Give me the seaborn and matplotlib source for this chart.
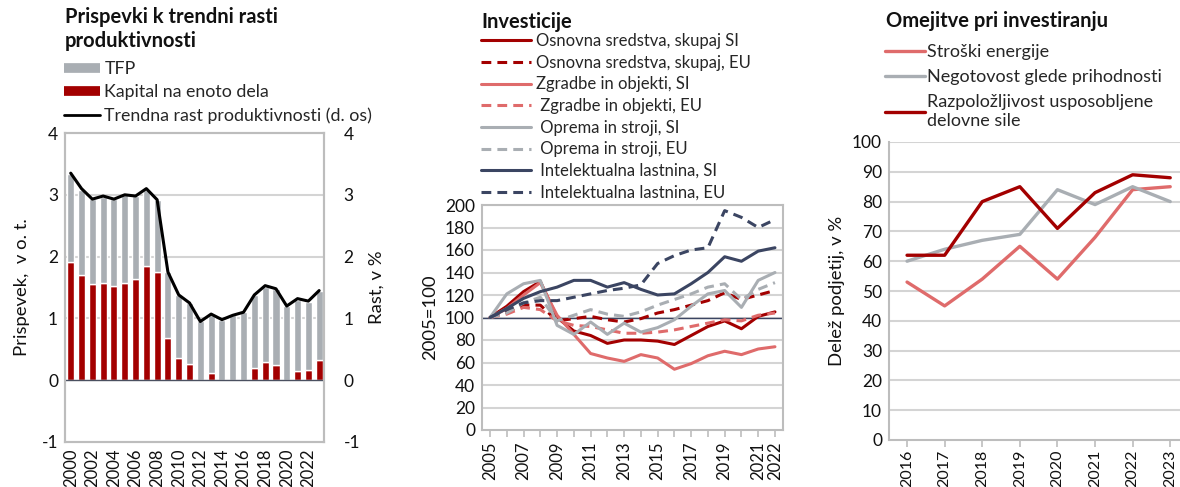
import numpy as np
import pandas as pd
import matplotlib
matplotlib.use("Agg")
import matplotlib.pyplot as plt
from matplotlib.lines import Line2D
import seaborn as sns

sns.set_theme(style="white")
plt.rcParams['font.family'] = ['Lato', 'DejaVu Sans']

# ---------------- data ----------------
years_a = list(range(2000, 2024))
kapital = [1.92, 1.70, 1.55, 1.58, 1.53, 1.58, 1.63, 1.85, 1.75, 0.68, 0.36, 0.26,
           0.00, 0.12, 0.00, 0.01, -0.02, 0.19, 0.30, 0.25, -0.02, 0.15, 0.17, 0.33]
tfp = [1.41, 1.38, 1.38, 1.39, 1.40, 1.42, 1.35, 1.23, 1.17, 1.07, 1.02, 0.99,
       0.95, 0.94, 0.98, 1.04, 1.10, 1.19, 1.20, 1.23, 1.20, 1.15, 1.10, 1.12]
trend = [3.35, 3.10, 2.93, 2.98, 2.93, 3.00, 2.98, 3.10, 2.92, 1.75, 1.38, 1.25,
         0.95, 1.07, 0.98, 1.05, 1.10, 1.38, 1.53, 1.48, 1.20, 1.32, 1.28, 1.45]

years_b = list(range(2005, 2023))
osn_si = [100, 110, 123, 132, 100, 88, 84, 77, 80, 80, 79, 76, 84, 92, 97, 90, 101, 105]
osn_eu = [100, 105, 111, 111, 97, 99, 101, 98, 96, 99, 104, 107, 111, 115, 122, 116, 120, 124]
zgr_si = [100, 108, 120, 131, 102, 85, 68, 64, 61, 67, 64, 54, 59, 66, 70, 67, 72, 74]
zgr_eu = [100, 103, 109, 107, 97, 93, 92, 89, 86, 86, 87, 89, 92, 95, 98, 97, 102, 104]
opr_si = [100, 121, 130, 133, 93, 85, 96, 85, 95, 87, 91, 98, 110, 121, 124, 109, 133, 140]
opr_eu = [100, 104, 113, 118, 97, 102, 107, 103, 101, 105, 111, 116, 121, 127, 130, 116, 125, 131]
int_si = [100, 108, 117, 123, 127, 133, 133, 127, 131, 125, 120, 121, 130, 140, 154, 150, 159, 162]
int_eu = [100, 107, 113, 115, 115, 118, 121, 124, 126, 129, 148, 155, 160, 162, 195, 189, 180, 187]
labels_b = ["Osnovna sredstva, skupaj SI", "Osnovna sredstva, skupaj, EU",
            "Zgradbe in objekti, SI", " Zgradbe in objekti, EU",
            " Oprema in stroji, SI", " Oprema in stroji, EU",
            " Intelektualna lastnina, SI", " Intelektualna lastnina, EU"]

years_c = list(range(2016, 2024))
energija = [53, 45, 54, 65, 54, 68, 84, 85]
negotovost = [60, 64, 67, 69, 84, 79, 85, 80]
delovna = [62, 62, 80, 85, 71, 83, 89, 88]
labels_c = ["Stroški energije", "Negotovost glede prihodnosti",
            "Razpoložljivost usposobljene\ndelovne sile"]

# ---------------- style ----------------
DARK_RED = "#A30000"
LIGHT_RED = "#DF6B6B"
GRAY = "#A9AEB3"
NAVY = "#3B4562"
GRID = "#D4D4D4"
SPINE = "#BDBDBD"
TXT = "#111111"
W, H = 1180, 487
FS = 12.5      # y tick labels
FSX = 12       # x tick labels
FSL = 13.3     # axis labels
FST = 14.5     # titles

fig = plt.figure(figsize=(W / 100, H / 100), dpi=100)


def px_axes(l, t, r, b):
    return fig.add_axes([l / W, 1 - b / H, (r - l) / W, (b - t) / H])


def ftext(x, y, s, **kw):
    fig.text(x / W, 1 - y / H, s, **kw)


def style_spines(ax, which=("left", "bottom", "right", "top")):
    for k, sp in ax.spines.items():
        if k in which:
            sp.set_visible(True)
            sp.set_color(SPINE)
            sp.set_linewidth(1.5)
        else:
            sp.set_visible(False)


# ---------------- left panel ----------------
ax1 = px_axes(65, 133, 324, 442)
idx_a = np.arange(len(years_a))
bw = 0.66
ax1.bar(idx_a, kapital, width=bw, color=DARK_RED, zorder=3)
ax1.bar(idx_a, tfp, width=bw, bottom=np.clip(kapital, 0, None), color=GRAY, zorder=3)
ax1.set_ylim(-1, 4)
ax1.set_xlim(-0.53, len(years_a) - 0.55)
ax1.set_yticks([-1, 0, 1, 2, 3, 4])
ax1.set_yticklabels(["-1", "0", "1", "2", "3", "4"])
for v in [1, 2, 3]:
    ax1.axhline(v, color=GRID, lw=1.5, zorder=1)
ax1.axhline(0, color="#4A5060", lw=1.0, zorder=4)
ax1.set_xticks(idx_a[::2])
ax1.set_xticklabels([str(y) for y in years_a[::2]], rotation=90)
ax1.tick_params(axis="y", length=0, labelsize=FS, colors=TXT, pad=5)
ax1.tick_params(axis="x", length=0, labelsize=FSX, colors=TXT, pad=5)
ax1.set_ylabel("Prispevek,  v o. t.", fontsize=FSL, color=TXT, labelpad=8)
style_spines(ax1)

ax1b = ax1.twinx()
sns.lineplot(x=idx_a, y=trend, ax=ax1b, color="black", lw=2.2, zorder=5)
ax1b.set_ylim(-1, 4)
ax1b.set_yticks([-1, 0, 1, 2, 3, 4])
ax1b.set_yticklabels(["-1", "0", "1", "2", "3", "4"])
ax1b.tick_params(axis="y", length=0, labelsize=FS, colors=TXT, pad=14)
ax1b.set_ylabel("Rast, v %", fontsize=FSL, color=TXT, labelpad=6)
style_spines(ax1b)

ftext(65, 7, "Prispevki k trendni rasti\nproduktivnosti", fontsize=FST, fontweight="bold",
      va="top", ha="left", color=TXT, linespacing=1.25)
h_left = [Line2D([], [], color=GRAY, lw=7, solid_capstyle="butt"),
          Line2D([], [], color=DARK_RED, lw=7, solid_capstyle="butt"),
          Line2D([], [], color="black", lw=2)]
fig.legend(h_left, ["TFP", "Kapital na enoto dela", "Trendna rast produktivnosti (d. os)"],
           loc="upper left", bbox_to_anchor=(64 / W, 1 - 61 / H), frameon=False,
           fontsize=12.8, handlelength=2.05, handletextpad=0.22, labelspacing=0.42,
           borderpad=0, borderaxespad=0)

# ---------------- middle panel ----------------
ax2 = px_axes(482, 205, 783, 430)
series_b = [osn_si, osn_eu, zgr_si, zgr_eu, opr_si, opr_eu, int_si, int_eu]
cols_b = [DARK_RED, DARK_RED, LIGHT_RED, LIGHT_RED, GRAY, GRAY, NAVY, NAVY]
dash = (0, (3.2, 2.0))
styles_b = ["-", dash, "-", dash, "-", dash, "-", dash]
for v in range(20, 201, 20):
    ax2.axhline(v, color=GRID, lw=1.5, zorder=1)
ax2.axhline(100, color=NAVY, lw=1.0, zorder=2)
handles_b = []
for s, c, ls in zip(series_b, cols_b, styles_b):
    sns.lineplot(x=years_b, y=s, ax=ax2, color=c, lw=2.2, linestyle=ls, zorder=3)
    handles_b.append(Line2D([], [], color=c, lw=2.2, linestyle=ls))
ax2.set_ylim(0, 200)
ax2.set_xlim(years_b[0] - 0.48, years_b[-1] + 0.48)
ax2.set_yticks(range(0, 201, 20))
ax2.set_xticks(years_b, minor=True)
ax2.set_xticks(list(range(2005, 2022, 2)) + [2022])
ax2.set_xticklabels([str(y) for y in list(range(2005, 2022, 2)) + [2022]], rotation=90)
ax2.tick_params(axis="y", length=0, labelsize=FS, colors=TXT, pad=5)
ax2.tick_params(axis="x", which="both", length=5, width=1.2, color=SPINE, labelsize=FSX,
                colors=TXT, pad=3, bottom=True)
ax2.tick_params(axis="x", which="major", labelcolor=TXT)
ax2.set_ylabel("2005=100", fontsize=FSL, color=TXT, labelpad=5)
ax2.set_xlabel("")
style_spines(ax2)

ftext(481, 22, "Investicije", fontsize=FST, fontweight="bold", va="center", ha="left", color=TXT)
fig.legend(handles_b, labels_b, loc="upper left", bbox_to_anchor=(481 / W, 1 - 33 / H),
           frameon=False, fontsize=12, handlelength=3.0, handletextpad=0.3,
           labelspacing=0.34, borderpad=0, borderaxespad=0)

# ---------------- right panel ----------------
ax3 = px_axes(889, 142, 1180, 440)
for v in range(10, 101, 10):
    ax3.axhline(v, color=GRID, lw=1.5, zorder=1)
cols_c = [LIGHT_RED, GRAY, DARK_RED]
handles_c = []
for s, c in zip([energija, negotovost, delovna], cols_c):
    sns.lineplot(x=years_c, y=s, ax=ax3, color=c, lw=2.4, zorder=3)
    handles_c.append(Line2D([], [], color=c, lw=2.4))
ax3.set_ylim(0, 100)
ax3.set_xlim(years_c[0] - 0.48, years_c[-1] + 0.26)
ax3.set_yticks(range(0, 101, 10))
ax3.set_xticks(years_c)
ax3.set_xticklabels([str(y) for y in years_c], rotation=90)
ax3.tick_params(axis="y", length=0, labelsize=FS, colors=TXT, pad=5)
ax3.tick_params(axis="x", length=5, width=1.2, color=SPINE, labelsize=11.5, colors=TXT,
                pad=2, bottom=True)
ax3.set_ylabel("Delež podjetij, v %", fontsize=FSL, color=TXT, labelpad=5)
ax3.set_xlabel("")
style_spines(ax3, which=("left", "bottom"))

ftext(886, 21, "Omejitve pri investiranju", fontsize=FST, fontweight="bold", va="center",
      ha="left", color=TXT)
fig.legend(handles_c, labels_c, loc="upper left", bbox_to_anchor=(885 / W, 1 - 44 / H),
           frameon=False, fontsize=13, handlelength=2.2, handletextpad=0.15,
           labelspacing=0.5, borderpad=0, borderaxespad=0)

fig.savefig("out.png", dpi=100)
